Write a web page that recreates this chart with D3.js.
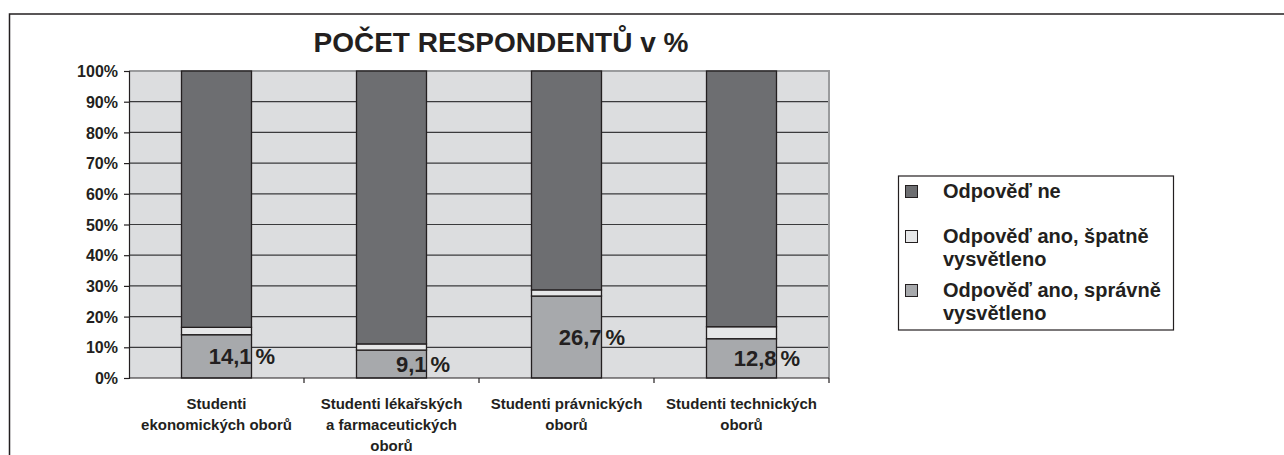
<!DOCTYPE html>
<html>
<head>
<meta charset="utf-8">
<script src="https://cdn.jsdelivr.net/npm/d3@7"></script>
<style>
  body { margin: 0; background: #fff; }
  text { font-family: "Liberation Sans", Arial, sans-serif; font-weight: bold; fill: #231f20; }
</style>
</head>
<body>
<div id="plot"></div>
<script>
// data
const categories = ["ekon", "lek", "prav", "tech"];
const categoryLines = [
  ["Studenti", "ekonomických oborů"],
  ["Studenti lékařských", "a farmaceutických", "oborů"],
  ["Studenti právnických", "oborů"],
  ["Studenti technických", "oborů"]
];
const correct = [14.1, 9.1, 26.7, 12.8];
const wrong = [2.4, 2.0, 2.0, 3.9];
const no = [83.5, 88.9, 71.3, 83.3];
const valueLabels = ["14,1", "9,1", "26,7", "12,8"];
const seriesNames = ["Odpověď ne", "Odpověď ano, špatně vysvětleno", "Odpověď ano, správně vysvětleno"];
const yTicks = [0, 10, 20, 30, 40, 50, 60, 70, 80, 90, 100];

const w = 1284;
const h = 455;
const margin = {top: 71, left: 129, right: 455, bottom: 77};

const colors = {no: "#6d6e71", wrong: "#e6e7e8", correct: "#a7a9ac"};

const rows = categories.map((c, i) => ({cat: c, correct: correct[i], wrong: wrong[i], no: no[i]}));
const keys = ["correct", "wrong", "no"];
const stacked = d3.stack().keys(keys)(rows);

const svg = d3.select("div#plot")
  .append("svg")
    .attr("width", w)
    .attr("height", h);

// outer chart border (continues past the picture)
svg.append("rect")
  .attr("x", 9.5)
  .attr("y", 14)
  .attr("width", 1400)
  .attr("height", 600)
  .attr("fill", "none")
  .attr("stroke", "#231f20")
  .attr("stroke-width", 1.5);

const xScale = d3.scaleBand()
  .domain(categories)
  .range([margin.left, w - margin.right])
  .paddingInner(0.6)
  .paddingOuter(0.3);

const yScale = d3.scaleLinear()
  .domain([0, 100])
  .range([h - margin.bottom, margin.top]);

const x0 = margin.left, x1 = w - margin.right;
const step = xScale.step();

// plot area background
svg.append("rect")
  .attr("x", x0)
  .attr("y", yScale(100))
  .attr("width", x1 - x0)
  .attr("height", yScale(0) - yScale(100))
  .attr("fill", "#dcdddf");

// gridlines
svg.append("g")
  .selectAll("line")
  .data(yTicks.filter(d => d > 0 && d < 100))
  .join("line")
    .attr("x1", x0)
    .attr("x2", x1)
    .attr("y1", d => yScale(d))
    .attr("y2", d => yScale(d))
    .attr("stroke", "#3a3a3c")
    .attr("stroke-width", 1.2);

// plot border top / right
svg.append("path")
  .attr("d", `M${x0},${yScale(100)}H${x1}V${yScale(0)}`)
  .attr("fill", "none")
  .attr("stroke", "#9a9b9d")
  .attr("stroke-width", 2);

// bars
svg.append("g")
  .selectAll("g")
  .data(stacked)
  .join("g")
    .attr("fill", d => colors[d.key])
  .selectAll("rect")
  .data(d => d)
  .join("rect")
    .attr("x", d => xScale(d.data.cat))
    .attr("y", d => yScale(d[1]))
    .attr("width", xScale.bandwidth())
    .attr("height", d => yScale(d[0]) - yScale(d[1]))
    .attr("stroke", "#231f20")
    .attr("stroke-width", 1.3);

// y axis
const yAxis = d3.axisLeft(yScale)
  .tickValues(yTicks)
  .tickSize(5)
  .tickFormat(d => d + "%");

const gy = svg.append("g")
  .attr("transform", `translate(${x0},0)`)
  .call(yAxis);
gy.select(".domain").attr("stroke", "#231f20").attr("stroke-width", 1.2);
gy.selectAll(".tick line").attr("stroke", "#231f20").attr("stroke-width", 1.2);
gy.selectAll(".tick text")
  .attr("x", -11)
  .attr("dy", "0.35em")
  .style("font-size", "16px")
  .style("font-family", "'Liberation Sans', Arial, sans-serif")
  .style("font-weight", "bold")
  .attr("fill", "#231f20");

// x axis: baseline with ticks at category boundaries
svg.append("line")
  .attr("x1", x0)
  .attr("x2", x1)
  .attr("y1", yScale(0))
  .attr("y2", yScale(0))
  .attr("stroke", "#231f20")
  .attr("stroke-width", 1.2);

svg.append("g")
  .selectAll("line")
  .data(categories)
  .join("line")
    .attr("x1", d => xScale(d) - step * 0.3 + step)
    .attr("x2", d => xScale(d) - step * 0.3 + step)
    .attr("y1", yScale(0))
    .attr("y2", yScale(0) + 5)
    .attr("stroke", "#231f20")
    .attr("stroke-width", 1.2);

// category labels
svg.append("g")
  .selectAll("text")
  .data(categories)
  .join("text")
    .attr("text-anchor", "middle")
    .style("font-size", "15px")
    .each(function(d, i) {
      d3.select(this).selectAll("tspan")
        .data(categoryLines[i])
        .join("tspan")
          .attr("x", xScale(d) + xScale.bandwidth() / 2)
          .attr("y", (t, j) => 409 + j * 21)
          .text(t => t);
    });

// value labels on correct segment
const lab = svg.append("g")
  .selectAll("g")
  .data(categories)
  .join("g");

lab.append("text")
  .attr("x", d => xScale(d) + xScale.bandwidth())
  .attr("y", (d, i) => yScale(correct[i] / 2) + 8)
  .attr("text-anchor", "end")
  .style("font-size", "22px")
  .text((d, i) => valueLabels[i]);

lab.append("text")
  .attr("x", d => xScale(d) + xScale.bandwidth() + 4)
  .attr("y", (d, i) => yScale(correct[i] / 2) + 8)
  .style("font-size", "22px")
  .text("%");

// title
svg.append("text")
  .attr("x", 501)
  .attr("y", 52)
  .attr("text-anchor", "middle")
  .style("font-size", "28px")
  .text("POČET RESPONDENTŮ v %");

// legend
const legend = svg.append("g");
legend.append("rect")
  .attr("x", 898.5)
  .attr("y", 176)
  .attr("width", 275)
  .attr("height", 154)
  .attr("fill", "#fff")
  .attr("stroke", "#231f20")
  .attr("stroke-width", 1.2);

const legendKeys = ["no", "wrong", "correct"];
const legendLines = [
  [seriesNames[0]],
  ["Odpověď ano, špatně", "vysvětleno"],
  ["Odpověď ano, správně", "vysvětleno"]
];
const legendY = [198, 243, 297];

const item = legend.selectAll("g")
  .data(legendKeys)
  .join("g");

item.append("rect")
  .attr("x", 905.5)
  .attr("y", (d, i) => legendY[i] - 12.5)
  .attr("width", 12)
  .attr("height", 12)
  .attr("fill", d => colors[d])
  .attr("stroke", "#231f20")
  .attr("stroke-width", 1);

item.append("text")
  .style("font-size", "20px")
  .each(function(d, i) {
    d3.select(this).selectAll("tspan")
      .data(legendLines[i])
      .join("tspan")
        .attr("x", 943)
        .attr("y", (t, j) => legendY[i] + j * 22.5)
        .text(t => t);
  });
</script>
</body>
</html>
